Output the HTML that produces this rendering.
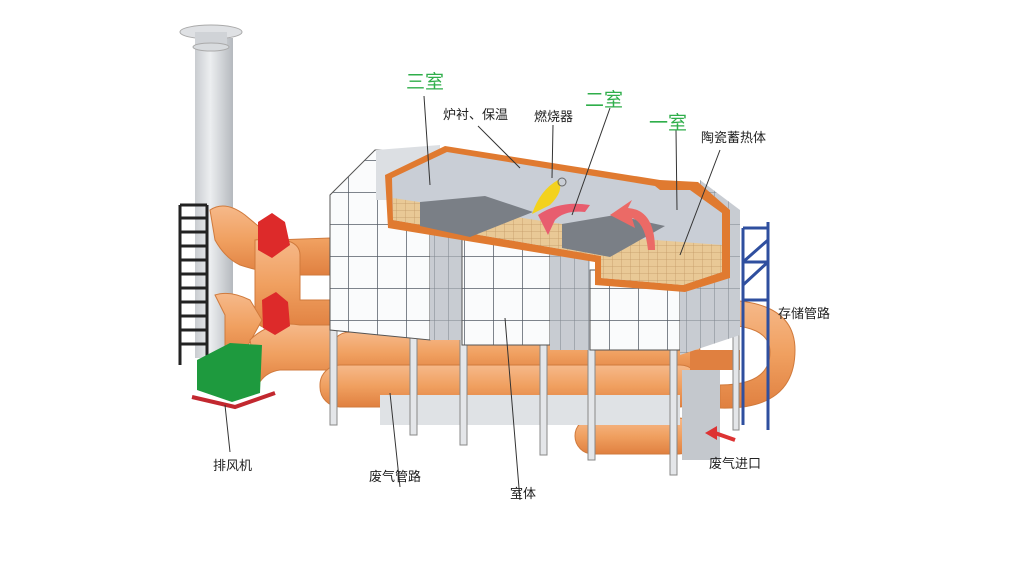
<!DOCTYPE html>
<html><head><meta charset="utf-8"><style>
html,body{margin:0;padding:0;background:#fff;width:1024px;height:582px;overflow:hidden}
svg{display:block}
text{font-family:"Liberation Sans","Noto Sans CJK SC",sans-serif}
.l{font-size:13px;fill:#222}
.g{font-size:19px;fill:#2fae4a}
.ln{stroke:#333;stroke-width:1;fill:none}
</style></head><body>
<svg width="1024" height="582" viewBox="0 0 1024 582" xmlns="http://www.w3.org/2000/svg">
<defs>
<linearGradient id="chim" x1="0" x2="1"><stop offset="0" stop-color="#c9ccd0"/><stop offset=".4" stop-color="#eceef0"/><stop offset="1" stop-color="#b5b9be"/></linearGradient>
<linearGradient id="pipe" x1="0" y1="0" x2="0" y2="1"><stop offset="0" stop-color="#f6b98a"/><stop offset=".5" stop-color="#f0a060"/><stop offset="1" stop-color="#e08040"/></linearGradient>
<pattern id="tile" width="29" height="32" patternUnits="userSpaceOnUse"><rect width="29" height="32" fill="#fafbfc"/><path d="M0 0H29M0 0V32" stroke="#555c66" stroke-width="1.5"/></pattern>
<pattern id="tile2" width="14" height="32" patternUnits="userSpaceOnUse"><rect width="14" height="32" fill="#c8ccd2"/><path d="M0 0H14M0 0V32" stroke="#7d848c" stroke-width="1"/></pattern>
<pattern id="cer" width="9" height="7" patternUnits="userSpaceOnUse"><rect width="9" height="7" fill="#e9c996"/><path d="M0 0H9M0 0V7" stroke="#c39a66" stroke-width=".8"/></pattern>
</defs>

<!-- chimney -->
<rect x="195" y="38" width="38" height="320" fill="url(#chim)"/>
<ellipse cx="211" cy="32" rx="31" ry="7" fill="#dfe1e4" stroke="#aaa"/>
<rect x="195" y="32" width="32" height="14" fill="#d0d3d7"/>
<ellipse cx="211" cy="47" rx="18" ry="4" fill="#d8dbde" stroke="#aaa"/>

<!-- ladder -->
<g stroke="#222" stroke-width="3" fill="none">
<path d="M180 205V365M207 205V360M180 205H207"/>
<path d="M180 218H207M180 232H207M180 246H207M180 260H207M180 274H207M180 288H207M180 302H207M180 316H207M180 330H207M180 344H207"/>
</g>

<!-- pipes left -->
<g fill="url(#pipe)" stroke="#d07a3c" stroke-width="1">
<path d="M210 210 Q225 200 245 215 L275 240 L330 238 L330 275 L280 275 Q255 270 240 265 Q225 258 215 240Z"/>
<path d="M255 240 Q300 235 300 255 L300 300 L330 300 L330 330 L280 330 Q255 330 255 315 Z"/>
<path d="M215 295 Q230 290 250 300 L262 320 L240 360 L225 360 L225 315Z"/>
<path d="M250 340 Q270 320 300 325 L330 325 L330 370 L280 370 Q265 372 258 385 Z"/>
<rect x="330" y="332" width="370" height="44" rx="20"/>
<rect x="320" y="365" width="380" height="42" rx="20"/>
<rect x="575" y="418" width="122" height="36" rx="18"/>
<path d="M720 300 Q795 300 795 350 Q795 410 720 408 L720 385 Q770 385 770 352 Q770 325 720 325Z"/>
</g>
<path d="M690 360 Q735 360 740 360" stroke="#e08040" stroke-width="20" fill="none"/>

<!-- red valves -->
<path d="M258 222 L272 213 L285 222 L290 245 L272 258 L258 250Z" fill="#dd2a2a"/>
<path d="M262 300 L276 292 L288 302 L290 326 L275 335 L263 328Z" fill="#dd2a2a"/>

<!-- fan -->
<path d="M197 360 L230 343 L262 345 L260 393 L232 402 L197 390Z" fill="#1e9a3e"/>
<path d="M192 397 L235 407 L275 393" stroke="#c2282f" stroke-width="4" fill="none"/>

<!-- blue frame -->
<g stroke="#2f4f9f" stroke-width="3" fill="none">
<path d="M743 228V425M768 222V430M743 228H768M743 262L768 240M743 262H768M743 285L768 262M743 300H768"/>
</g>

<!-- back wall -->
<rect x="380" y="395" width="300" height="30" fill="#dfe2e5"/>
<rect x="682" y="370" width="38" height="90" fill="#c4c8cd"/>
<!-- legs -->
<g fill="#e4e6e9" stroke="#888">
<rect x="330" y="330" width="7" height="95"/><rect x="410" y="330" width="7" height="105"/>
<rect x="460" y="330" width="7" height="115"/><rect x="540" y="340" width="7" height="115"/>
<rect x="588" y="340" width="7" height="120"/><rect x="670" y="350" width="7" height="125"/>
<rect x="733" y="330" width="6" height="100"/>
</g>

<!-- left module -->
<path d="M330 195 L375 150 L430 150 L430 340 L330 330Z" fill="url(#tile)" stroke="#555"/>
<rect x="430" y="235" width="35" height="105" fill="url(#tile2)"/>
<rect x="462" y="235" width="88" height="110" fill="url(#tile)" stroke="#555"/>
<rect x="550" y="245" width="40" height="105" fill="url(#tile2)"/>
<rect x="590" y="270" width="90" height="80" fill="url(#tile)" stroke="#555"/>
<path d="M680 290 L740 265 L740 335 L680 355Z" fill="url(#tile2)"/>
<path d="M700 180 L740 210 L740 270 L700 290Z" fill="url(#tile2)"/>
<path d="M376 150 L440 145 L440 200 L376 200Z" fill="#dcdfe3"/>

<!-- chamber cutout -->
<path d="M385 175 L445 146 L660 180 L698 182 L730 210 L730 278 L685 292 L595 285 L595 262 L388 228Z" fill="#e07a30"/>
<path d="M392 178 L447 152 L655 186 L660 190 L690 190 L722 213 L722 272 L683 285 L601 278 L601 256 L393 220Z" fill="#c9ced6"/>
<path d="M393 198 L601 230 L601 256 L393 220Z" fill="url(#cer)"/>
<path d="M601 236 L722 245 L722 272 L683 285 L601 278Z" fill="url(#cer)"/>
<path d="M420 202 L485 196 L533 212 L470 237 L420 226Z" fill="#7a7f86"/>
<path d="M562 224 L615 215 L665 226 L610 257 L562 248Z" fill="#7a7f86"/>
<path d="M532 214 Q540 190 558 180 Q565 190 550 205Z" fill="#f3d21d"/>
<circle cx="562" cy="182" r="4" fill="none" stroke="#666"/>
<path d="M538 215 Q560 200 590 205 L585 212 Q565 210 555 220 L548 235Z" fill="#e85d6e"/>
<path d="M655 250 Q655 210 628 208 L632 200 L610 215 L635 228 L632 218 Q645 222 648 250Z" fill="#eb6a66"/>

<!-- leader lines -->
<path class="ln" d="M424 96L430 185M478 126L520 168M553 125L552 178M610 108L572 215M676 130L677 210M720 150L680 255M520 500L505 318M400 487L390 393M230 452L225 405"/>
<path d="M735 440L715 433" stroke="#d33" stroke-width="4"/><path d="M705 433l12-7v14z" fill="#d33"/>

<!-- labels -->
<text class="g" x="406" y="88">三室</text>
<text class="g" x="585" y="106">二室</text>
<text class="g" x="649" y="129">一室</text>
<text class="l" x="443" y="119">炉衬、保温</text>
<text class="l" x="534" y="121">燃烧器</text>
<text class="l" x="701" y="142">陶瓷蓄热体</text>
<text class="l" x="778" y="318">存储管路</text>
<text class="l" x="709" y="468">废气进口</text>
<text class="l" x="213" y="470">排风机</text>
<text class="l" x="369" y="481">废气管路</text>
<text class="l" x="510" y="498">室体</text>
</svg>
</body></html>
